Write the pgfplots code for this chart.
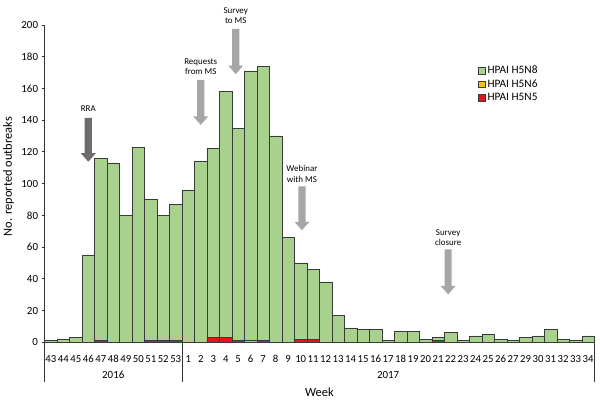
\documentclass[border=0pt]{standalone}
\usepackage{pgfplots}
\pgfplotsset{compat=1.18}
\usepackage{pgfplotstable}
\usepackage{fontspec}
\setmainfont{Carlito}
\definecolor{gn}{HTML}{A9D18E}
\definecolor{og}{HTML}{FFC000}
\definecolor{rd}{HTML}{E3151B}
\definecolor{bd}{HTML}{3A3A3A}
\definecolor{arL}{HTML}{A6A6A6}
\definecolor{arD}{HTML}{6F6B6B}
\pgfplotstableread{
x red orange green
0 0 0 1
1 0 0 2
2 0 0 3
3 0 0 55
4 1 0 115
5 0 0 113
6 0 0 80
7 0 0 123
8 1 0 89
9 1 0 79
10 1 0 86
11 0 0 96
12 0 0 114
13 3 0 119
14 3 0 155
15 1 0 134
16 0 1 170
17 1 0 173
18 0 0 130
19 0 0 66
20 2 0 48
21 2 0 44
22 0 0 38
23 0 0 17
24 0 0 9
25 0 0 8
26 0 0 8
27 0 0 1
28 0 0 7
29 0 0 7
30 0 0 2
31 1 0 2
32 0 0 6
33 0 0 1
34 0 0 4
35 0 0 5
36 0 0 2
37 0 0 1
38 0 0 3
39 0 0 4
40 0 0 8
41 0 0 2
42 0 0 1
43 0 0 4
}\datatable
\newcommand{\annarrow}[4]{%
\fill[#1] ([xshift=-3.6bp]axis cs:#2,#3) -- ([xshift=3.6bp]axis cs:#2,#3) -- ([xshift=3.6bp,yshift=8.5bp]axis cs:#2,#4) -- ([xshift=7.5bp,yshift=8.5bp]axis cs:#2,#4) -- (axis cs:#2,#4) -- ([xshift=-7.5bp,yshift=8.5bp]axis cs:#2,#4) -- ([xshift=-3.6bp,yshift=8.5bp]axis cs:#2,#4) -- cycle;}
\begin{document}
\begin{tikzpicture}
\begin{axis}[
  scale only axis,
  width=551bp, height=318bp,
  xmin=-0.5, xmax=43.5,
  ymin=0, ymax=200,
  clip=false,
  ybar stacked,
  bar width=1,
  axis x line*=bottom,
  axis y line*=left,
  axis line style={line width=0.8bp, black!80},
  ytick={0,20,...,200},
  ytick style={line width=0.8bp, black!80},
  tick align=outside,
  major tick length=3bp,
  xtick={0,...,43},
  xticklabels={43,44,45,46,47,48,49,50,51,52,53,1,2,3,4,5,6,7,8,9,10,11,12,13,14,15,16,17,18,19,20,21,22,23,24,25,26,27,29,30,31,32,33,34},
  xtick style={draw=none},
  xticklabel style={anchor=base, yshift=-17.5bp, font=\fontsize{10.8}{12}\selectfont},
  yticklabel style={font=\fontsize{11}{13}\selectfont},
  /pgf/number format/assume math mode=true,
  ylabel={No. reported outbreaks},
  ylabel style={at={(axis description cs:0,0.5)}, anchor=center, rotate=0, yshift=36bp, xshift=7bp, font=\fontsize{12.5}{14}\selectfont},
  xlabel={Week},
  xlabel style={at={(axis description cs:0.5,0)}, anchor=center, yshift=-50bp, font=\fontsize{12.5}{14}\selectfont},
  reverse legend,
  legend style={at={(rel axis cs:0.787,0.88)}, anchor=north west, draw=none, fill=none,
    font=\fontsize{11.4}{13}\selectfont, row sep=0.5bp, inner sep=1bp},
  legend cell align=left,
  legend image code/.code={\draw[#1, line width=0.6bp] (0bp,-3.3bp) rectangle (6.6bp,3.3bp);},
]
\addplot[fill=rd, draw=bd, line width=0.5bp] table[x=x, y=red] {\datatable};
\addlegendentry{HPAI H5N5}
\addplot[fill=og, draw=bd, line width=0.5bp] table[x=x, y=orange] {\datatable};
\addlegendentry{HPAI H5N6}
\addplot[fill=gn, draw=bd, line width=0.6bp] table[x=x, y=green] {\datatable};
\addlegendentry{HPAI H5N8}
% year separators
\draw[line width=0.8bp, black!80] (axis cs:-0.5,0) -- ([yshift=-40bp]axis cs:-0.5,0);
\draw[line width=0.8bp, black!80] (axis cs:10.5,0) -- ([yshift=-40bp]axis cs:10.5,0);
\draw[line width=0.8bp, black!80] (axis cs:43.5,0) -- ([yshift=-40bp]axis cs:43.5,0);
\node[font=\fontsize{11}{13}\selectfont] at ([yshift=-33bp]axis cs:5,0) {2016};
\node[font=\fontsize{11}{13}\selectfont] at ([yshift=-33bp]axis cs:27,0) {2017};
% annotations
\annarrow{arD}{3}{141.5}{113.8}
\annarrow{arL}{12}{165.4}{137}
\annarrow{arL}{14.8}{197.5}{169}
\annarrow{arL}{20.1}{98.3}{70.6}
\annarrow{arL}{31.8}{58.5}{30.2}
\node[font=\fontsize{9}{10.5}\selectfont, align=center] at (axis cs:3,147.2) {RRA};
\node[font=\fontsize{9}{10.5}\selectfont, align=center] at (axis cs:12,173.6) {Requests\\from MS};
\node[font=\fontsize{9}{10.5}\selectfont, align=center] at (axis cs:14.8,206) {Survey\\to MS};
\node[font=\fontsize{9}{10.5}\selectfont, align=center] at (axis cs:20.1,106) {Webinar\\with MS};
\node[font=\fontsize{9}{10.5}\selectfont, align=center] at (axis cs:31.8,66) {Survey\\closure};
% bounding box
\path ([xshift=-43.3bp, yshift=-65bp]rel axis cs:0,0) rectangle ([xshift=5.7bp,yshift=25bp]rel axis cs:1,1);
\end{axis}
\end{tikzpicture}
\end{document}
